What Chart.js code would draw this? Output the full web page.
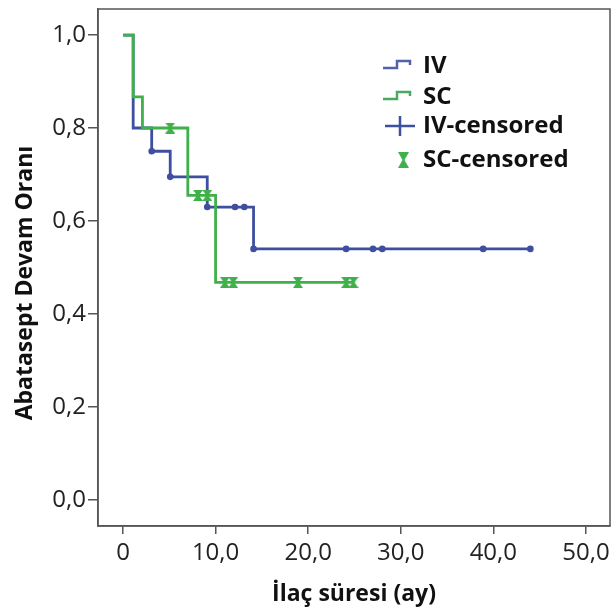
<!DOCTYPE html>
<html>
<head>
<meta charset="utf-8">
<script src="https://cdn.jsdelivr.net/npm/chart.js@4/dist/chart.umd.min.js"></script>
<style>
  html, body { margin: 0; padding: 0; background: #ffffff; }
  #wrap { width: 612px; height: 609px; }
</style>
</head>
<body>
<div id="wrap"><canvas id="c" width="612" height="609"></canvas></div>
<script>
// ---- Data ----
const ivTimes = [0, 1.1, 3.1, 5.1, 9.1, 14.1, 44.0];
const ivSurv  = [1.0, 0.8, 0.75, 0.695, 0.63, 0.54, 0.54];
const scTimes = [0, 1.1, 2.1, 7.0, 10.0, 25.0];
const scSurv  = [1.0, 0.867, 0.8, 0.655, 0.468, 0.468];
const ivCensTimes = [3.1, 5.1, 9.1, 12.1, 13.1, 14.1, 24.1, 27.0, 28.0, 38.9, 44.0];
const ivCensSurv  = [0.75, 0.695, 0.63, 0.63, 0.63, 0.54, 0.54, 0.54, 0.54, 0.54, 0.54];
const scCensTimes = [5.1, 8.1, 9.1, 11.0, 11.9, 18.9, 24.1, 24.9];
const scCensSurv  = [0.8, 0.655, 0.655, 0.468, 0.468, 0.468, 0.468, 0.468];
const xTickValues = [0, 10, 20, 30, 40, 50];
const xTickLabels = ['0', '10,0', '20,0', '30,0', '40,0', '50,0'];
const yTickValues = [0, 0.2, 0.4, 0.6, 0.8, 1.0];
const yTickLabels = ['0,0', '0,2', '0,4', '0,6', '0,8', '1,0'];
const seriesLabels = ['IV', 'SC', 'IV-censored', 'SC-censored'];
const xAxisTitle = 'İlaç süresi (ay)';
const yAxisTitle = 'Abatasept Devam Oranı';

const BLUE = '#3f4f9f';
const GREEN = '#3fb04a';
const AXIS = '#555555';
const FONT = "'Open Sans'";

function pts(xs, ys) { return xs.map((x, i) => ({ x: x, y: ys[i] })); }

function hourglass(w, h, color) {
  const c = document.createElement('canvas');
  c.width = w; c.height = h;
  const g = c.getContext('2d');
  g.fillStyle = color;
  g.beginPath();
  g.moveTo(0, 0); g.lineTo(w, 0); g.lineTo(w / 2 + 1, h / 2);
  g.lineTo(w, h); g.lineTo(0, h); g.lineTo(w / 2 - 1, h / 2);
  g.closePath(); g.fill();
  return c;
}
const hgPlot = hourglass(10, 11, GREEN);

const boxPlugin = {
  id: 'boxPlugin',
  beforeDatasetsDraw(chart) {
    const a = chart.chartArea, ctx = chart.ctx;
    ctx.save();
    ctx.strokeStyle = AXIS; ctx.lineWidth = 1.5;
    ctx.strokeRect(a.left, a.top, a.right - a.left, a.bottom - a.top);
    ctx.restore();
  }
};

const yTitlePlugin = {
  id: 'yTitlePlugin',
  afterDraw(chart) {
    const ctx = chart.ctx, a = chart.chartArea;
    ctx.save();
    ctx.translate(25, a.top + 274);
    ctx.rotate(-Math.PI / 2);
    ctx.font = 'bold 23px ' + FONT;
    ctx.fillStyle = '#111111';
    ctx.textAlign = 'center';
    ctx.textBaseline = 'middle';
    ctx.fillText(chart.options.scales.y.title.text, 0, 0);
    ctx.restore();
  }
};

const legendPlugin = {
  id: 'legendPlugin',
  afterDraw(chart) {
    const ctx = chart.ctx, a = chart.chartArea;
    const iconX = a.left + 285, textX = a.left + 325;
    const rows = [a.top + 57, a.top + 88, a.top + 117, a.top + 151];
    ctx.save();
    ctx.font = 'bold 24px ' + FONT;
    ctx.textBaseline = 'middle';
    ctx.fillStyle = '#111111';
    chart.data.datasets.forEach((ds, i) => {
      const cy = rows[i];
      ctx.fillText(ds.label, textX, cy);
      ctx.lineWidth = 2.5;
      if (i < 2) {
        ctx.strokeStyle = i === 0 ? '#5262aa' : '#4aa860';
        ctx.beginPath();
        ctx.moveTo(iconX, cy + 2); ctx.lineTo(iconX + 14, cy + 2);
        ctx.lineTo(iconX + 14, cy - 5); ctx.lineTo(iconX + 27, cy - 5);
        ctx.lineTo(iconX + 27, cy - 1);
        ctx.stroke();
      } else if (i === 2) {
        ctx.strokeStyle = BLUE;
        ctx.beginPath();
        ctx.moveTo(iconX + 2, cy); ctx.lineTo(iconX + 32, cy);
        ctx.moveTo(iconX + 17, cy - 10); ctx.lineTo(iconX + 17, cy + 10);
        ctx.stroke();
      } else {
        ctx.drawImage(hourglass(11, 16, GREEN), iconX + 15, cy - 8);
      }
    });
    ctx.restore();
  }
};

new Chart(document.getElementById('c'), {
  type: 'scatter',
  data: {
    datasets: [
      { label: seriesLabels[0], data: pts(ivTimes, ivSurv), showLine: true, stepped: true,
        borderColor: BLUE, borderWidth: 2.8, pointRadius: 0, order: 3 },
      { label: seriesLabels[1], data: pts(scTimes, scSurv), showLine: true, stepped: true,
        borderColor: GREEN, borderWidth: 2.8, pointRadius: 0, order: 2 },
      { label: seriesLabels[2], data: pts(ivCensTimes, ivCensSurv), showLine: false,
        pointStyle: 'circle', pointRadius: 3.3, backgroundColor: BLUE, borderColor: BLUE, borderWidth: 0, order: 1 },
      { label: seriesLabels[3], data: pts(scCensTimes, scCensSurv), showLine: false,
        pointStyle: hgPlot, pointRadius: 5, backgroundColor: GREEN, borderColor: GREEN, order: 0 }
    ]
  },
  options: {
    responsive: false,
    animation: false,
    layout: { autoPadding: false, padding: { top: 9, right: 2, left: 0, bottom: 0 } },
    plugins: { legend: { display: false }, tooltip: { enabled: false } },
    scales: {
      x: {
        type: 'linear', min: -2.7, max: 52.6,
        afterBuildTicks(s) { s.ticks = xTickValues.map(v => ({ value: v })); },
        afterFit(s) { s.height = 83; s.paddingLeft = 0; s.paddingRight = 0; },
        ticks: {
          callback: (v) => xTickLabels[xTickValues.indexOf(v)],
          font: { family: FONT, size: 24 }, color: '#222222', padding: 5, maxRotation: 0, autoSkip: false
        },
        grid: { drawOnChartArea: false, drawTicks: true, tickLength: 8, color: AXIS, lineWidth: 1.5 },
        border: { display: true, color: AXIS, width: 1.5 },
        title: { display: true, text: xAxisTitle, font: { family: FONT, size: 23, weight: 'bold' },
                 color: '#111111', padding: { top: 1, bottom: 1 } }
      },
      y: {
        type: 'linear', min: -0.056, max: 1.056,
        afterBuildTicks(s) { s.ticks = yTickValues.map(v => ({ value: v })); },
        afterFit(s) { s.width = 98; s.paddingTop = 0; s.paddingBottom = 0; },
        ticks: {
          callback: (v) => { const i = yTickValues.findIndex(t => Math.abs(t - v) < 1e-9); return yTickLabels[i]; },
          font: { family: FONT, size: 24 }, color: '#222222', padding: 2, autoSkip: false
        },
        grid: { drawOnChartArea: false, drawTicks: true, tickLength: 10, color: AXIS, lineWidth: 1.5 },
        border: { display: true, color: AXIS, width: 1.5 },
        title: { display: false, text: yAxisTitle }
      }
    }
  },
  plugins: [boxPlugin, yTitlePlugin, legendPlugin]
});
</script>
</body>
</html>
